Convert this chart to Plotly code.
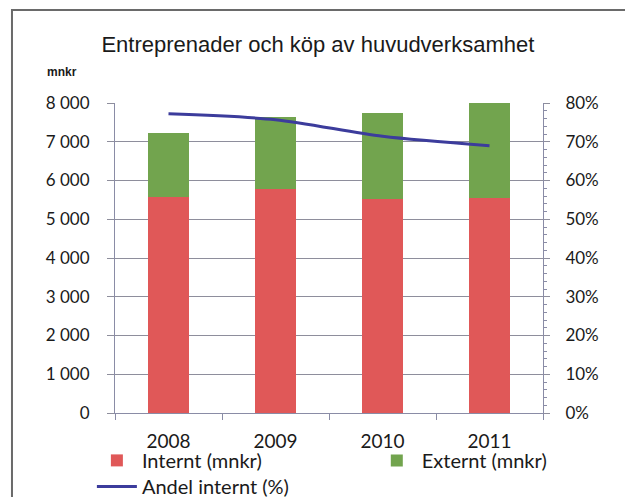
import plotly.graph_objects as go

# Data
years = ["2008", "2009", "2010", "2011"]
internt = [5580, 5780, 5520, 5540]      # mnkr
externt = [1650, 1860, 2210, 2450]      # mnkr
andel_internt = [77.2, 75.7, 71.4, 69.0]  # %

left_ticks = [0, 1000, 2000, 3000, 4000, 5000, 6000, 7000, 8000]
right_ticks = [0, 10, 20, 30, 40, 50, 60, 70, 80]
right_labels = ["0%", "10%", "20%", "30%", "40%", "50%", "60%", "70%", "80%"]

font_main = "Lato, 'Open Sans', sans-serif"
axis_col = "#8a8ca6"
grid_col = "#8e8e9c"

fig = go.Figure()

fig.add_trace(go.Bar(
    x=years, y=internt, name="Internt (mnkr)",
    marker=dict(color="#e05858", line=dict(width=0)),
    legend="legend",
))
fig.add_trace(go.Bar(
    x=years, y=externt, name="Externt (mnkr)",
    marker=dict(color="#72a44e", line=dict(width=0)),
    legend="legend2",
))
fig.add_trace(go.Scatter(
    x=years, y=andel_internt, name="Andel internt (%)",
    mode="lines", yaxis="y2",
    line=dict(color="#3c3c9c", width=3, shape="spline", smoothing=0.8),
    legend="legend3",
))

legend_style = dict(
    xanchor="left", yanchor="top", orientation="v",
    bgcolor="rgba(0,0,0,0)", font=dict(size=20), itemwidth=40,
)

# the page body adds an 8px offset, so the layout is shifted up/left by 8px
fig.update_layout(
    width=633, height=497,
    margin=dict(l=107, r=98, t=95, b=92, autoexpand=False),
    paper_bgcolor="white", plot_bgcolor="white",
    showlegend=True,
    barmode="stack", bargap=0.615,
    separators=", ",
    font=dict(family=font_main, size=16, color="#1a1a1a"),
    title=dict(
        text="Entreprenader och köp av huvudverksamhet",
        x=0.474, xanchor="center", xref="paper",
        y=1 - 36 / 497, yanchor="middle",
        font=dict(family="'Liberation Sans Narrow', 'Liberation Sans', sans-serif",
                  size=22, color="#1a1a1a"),
    ),
    xaxis=dict(
        type="category",
        showline=True, linecolor=axis_col, linewidth=1,
        ticks="outside", ticklen=6, tickcolor=axis_col,
        tickson="boundaries",
        ticklabelstandoff=11,
        tickfont=dict(size=19),
        showgrid=False,
    ),
    yaxis=dict(
        range=[0, 8000], tickvals=left_ticks, tickformat=",d",
        showline=True, linecolor=axis_col, linewidth=1,
        ticks="outside", ticklen=7, tickcolor=grid_col,
        showgrid=True, gridcolor=grid_col, gridwidth=1,
        ticklabelstandoff=14,
        tickfont=dict(size=17),
        zeroline=False,
    ),
    yaxis2=dict(
        range=[0, 80], tickvals=right_ticks, ticktext=right_labels,
        overlaying="y", side="right",
        showline=True, linecolor=axis_col, linewidth=1,
        ticks="outside", ticklen=6, tickcolor=grid_col,
        minor=dict(ticks="outside", ticklen=3, tickcolor=axis_col, dtick=2),
        showgrid=False, zeroline=False,
        ticklabelstandoff=12,
        tickfont=dict(size=17),
    ),
    legend=dict(x=-0.054, y=-0.090, **legend_style),
    legend2=dict(x=0.600, y=-0.090, **legend_style),
    legend3=dict(x=-0.054, y=-0.174, **legend_style),
    shapes=[
        dict(type="rect", xref="paper", yref="paper",
             x0=-0.2407, x1=1.25, y0=-0.4, y1=1.3,
             line=dict(color="#6a6a6a", width=2)),
    ],
    annotations=[
        dict(text="<b>mnkr</b>", xref="paper", yref="paper",
             x=-0.1636, y=1.1, xanchor="left", yanchor="middle",
             showarrow=False, font=dict(size=12, color="#1a1a1a",
                                       family="'Liberation Sans Narrow', 'Liberation Sans', sans-serif")),
    ],
)

fig.write_html("out.html")
